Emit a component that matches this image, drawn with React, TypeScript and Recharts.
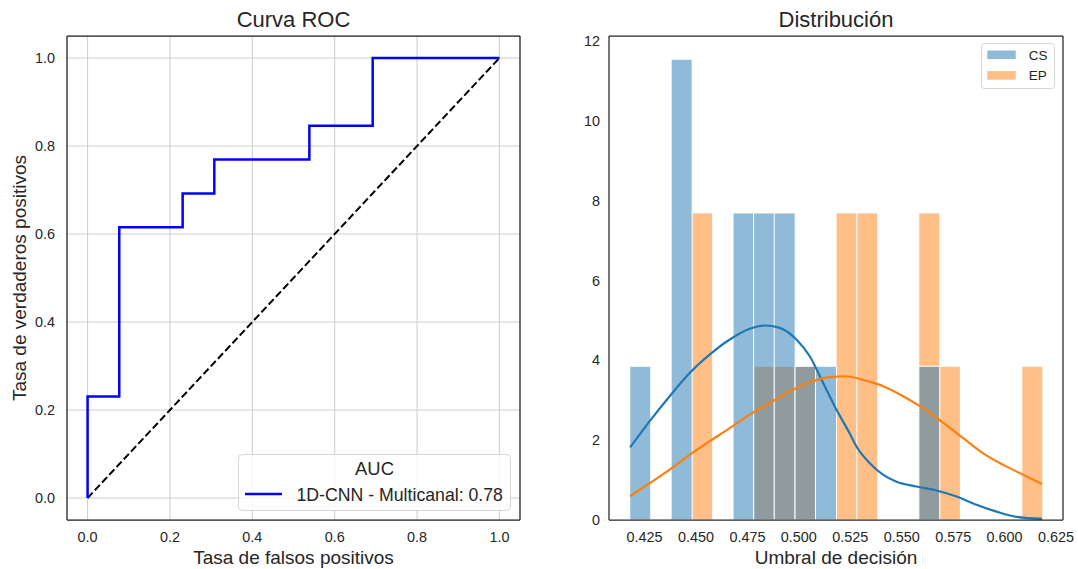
import { ComposedChart, Line, Bar, XAxis, YAxis, CartesianGrid, Legend, Label } from 'recharts'

const FONT = '"Liberation Sans", Arial, Helvetica, sans-serif'
const INK = '#262626'
const GRID = '#cccccc'

// ---- ROC curve (left panel) ----
const FPR = [0, 0, 0.0769, 0.0769, 0.2308, 0.2308, 0.3077, 0.3077, 0.5385, 0.5385, 0.6923, 0.6923, 1]
const TPR = [0, 0.2308, 0.2308, 0.6154, 0.6154, 0.6923, 0.6923, 0.7692, 0.7692, 0.8462, 0.8462, 1, 1]
const CHANCE_FPR = [0, 1]
const CHANCE_TPR = [0, 1]
const ROC_TICKS = [0, 0.2, 0.4, 0.6, 0.8, 1.0]
const ROC_DOMAIN = [-0.05, 1.05]
const ROC_NAME = '1D-CNN - Multicanal'
const ROC_AUC = 0.78

// ---- threshold distribution (right panel) ----
const GROUPS = ['CS', 'EP']
const BIN_CENTERS = [
  0.4228, 0.4328, 0.4429, 0.4529, 0.4629, 0.473, 0.483, 0.493, 0.5031, 0.5131,
  0.5231, 0.5332, 0.5432, 0.5532, 0.5633, 0.5733, 0.5833, 0.5934, 0.6034, 0.6134,
]
const CS_DENSITY = [3.85, 0, 11.54, 0, 0, 7.69, 7.69, 7.69, 3.85, 3.85, 0, 0, 0, 0, 3.85, 0, 0, 0, 0, 0]
const EP_DENSITY = [0, 0, 0, 7.69, 0, 0, 3.85, 3.85, 3.85, 0, 7.69, 7.69, 0, 0, 7.69, 3.85, 0, 0, 0, 3.85]

const KDE_CS_X = [
  0.418, 0.4274, 0.4372, 0.4469, 0.4566, 0.4664, 0.4761, 0.4834, 0.4907, 0.4988, 0.5053,
  0.5118, 0.5183, 0.5248, 0.528, 0.5345, 0.541, 0.5475, 0.5572, 0.5669, 0.5767, 0.5864,
  0.5961, 0.6059, 0.6182,
]
const KDE_CS_Y = [
  1.82, 2.47, 3.1, 3.68, 4.14, 4.52, 4.79, 4.87, 4.81, 4.52, 4.1,
  3.43, 2.76, 2.16, 1.84, 1.42, 1.13, 0.96, 0.84, 0.74, 0.59, 0.38,
  0.21, 0.08, 0.03,
]
const KDE_EP_X = [
  0.418, 0.4274, 0.4372, 0.4469, 0.4566, 0.4664, 0.4761, 0.4858, 0.4956, 0.5053, 0.515,
  0.5231, 0.5312, 0.541, 0.5507, 0.5604, 0.5702, 0.5799, 0.5896, 0.5994, 0.6091, 0.6182,
]
const KDE_EP_Y = [
  0.6, 0.92, 1.26, 1.63, 1.97, 2.3, 2.64, 2.93, 3.22, 3.45, 3.58,
  3.6, 3.51, 3.35, 3.1, 2.8, 2.43, 2.05, 1.67, 1.38, 1.13, 0.9,
]
const THRESHOLD_TICKS = [0.425, 0.45, 0.475, 0.5, 0.525, 0.55, 0.575, 0.6, 0.625]
const THRESHOLD_DOMAIN = [0.4077, 0.6284]
const DENSITY_TICKS = [0, 2, 4, 6, 8, 10, 12]
const DENSITY_DOMAIN = [0, 12.12]

const BLUE = '#1f77b4'
const ORANGE = '#ff7f0e'

const tickStyle = { fill: INK, fontSize: 14.4 }
const spine = { stroke: INK, strokeWidth: 1.25 }

function RocLegend() {
  return (
    <svg width={273} height={57} style={{ display: 'block' }}>
      <rect x={0.5} y={0.5} width={272} height={56} rx={4} fill="#ffffff" fillOpacity={0.8} stroke={GRID} strokeOpacity={0.8} />
      <text x={136.5} y={21} textAnchor="middle" fontSize={18.4} fill={INK}>AUC</text>
      <line x1={7} x2={44} y1={40} y2={40} stroke="#0000ff" strokeWidth={2.5} />
      <text x={58.5} y={46.5} fontSize={17.7} fill={INK}>{`${ROC_NAME}: ${ROC_AUC.toFixed(2)}`}</text>
    </svg>
  )
}

function RocChart() {
  const roc = FPR.map((fpr, i) => ({ fpr, tpr: TPR[i] }))
  const chance = CHANCE_FPR.map((fpr, i) => ({ fpr, tpr: CHANCE_TPR[i] }))

  return (
    <ComposedChart width={540} height={569} margin={{ top: 35, right: 19, bottom: 0, left: 0 }}>
      <CartesianGrid stroke={GRID} strokeWidth={1} />
      {/* the chance diagonal rides on the mirrored (frame) axes, same domain */}
      <Line
        xAxisId="frame"
        yAxisId="frame"
        data={chance}
        dataKey="tpr"
        type="linear"
        stroke="#000000"
        strokeWidth={2}
        strokeDasharray="7.4 3.2"
        dot={false}
        isAnimationActive={false}
      />
      <Line data={roc} dataKey="tpr" type="linear" stroke="#0000ff" strokeWidth={2.5} dot={false} isAnimationActive={false} />
      <XAxis
        dataKey="fpr"
        type="number"
        domain={ROC_DOMAIN}
        ticks={ROC_TICKS}
        allowDataOverflow
        tickFormatter={(v: number) => v.toFixed(1)}
        height={49}
        tickLine={false}
        tickSize={0}
        tickMargin={12}
        axisLine={spine}
        tick={tickStyle}
      >
        <Label value="Tasa de falsos positivos" position="insideBottom" offset={5} fill={INK} fontSize={19} />
      </XAxis>
      <YAxis
        type="number"
        domain={ROC_DOMAIN}
        ticks={ROC_TICKS}
        allowDataOverflow
        tickFormatter={(v: number) => v.toFixed(1)}
        width={67}
        tickLine={false}
        tickSize={0}
        tickMargin={12}
        axisLine={spine}
        tick={tickStyle}
      >
        <Label
          value="Tasa de verdaderos positivos"
          angle={-90}
          position="insideLeft"
          offset={19}
          fill={INK}
          fontSize={19}
          style={{ textAnchor: 'middle' }}
        />
      </YAxis>
      <XAxis
        xAxisId="frame"
        dataKey="fpr"
        orientation="top"
        type="number"
        domain={ROC_DOMAIN}
        allowDataOverflow
        height={1}
        tick={false}
        tickLine={false}
        axisLine={spine}
      >
        <Label value="Curva ROC" position="top" offset={8} fill={INK} fontSize={22} />
      </XAxis>
      <YAxis
        yAxisId="frame"
        orientation="right"
        type="number"
        domain={ROC_DOMAIN}
        allowDataOverflow
        width={1}
        tick={false}
        tickLine={false}
        axisLine={spine}
      />
      <Legend
        layout="vertical"
        align="center"
        verticalAlign="middle"
        wrapperStyle={{ left: 238, top: 454, width: 273, height: 57 }}
        content={() => <RocLegend />}
      />
    </ComposedChart>
  )
}

function DistLegend() {
  const colors = [BLUE, ORANGE]
  return (
    <svg width={74} height={46} style={{ display: 'block' }}>
      <rect x={0.5} y={0.5} width={73} height={45} rx={3} fill="#ffffff" fillOpacity={0.8} stroke={GRID} strokeOpacity={0.8} />
      {GROUPS.map((g, i) => (
        <g key={g}>
          <rect x={6.3} y={7.5 + i * 20.6} width={28.4} height={8.6} fill={colors[i]} fillOpacity={0.5} />
          <text x={47.7} y={16.7 + i * 20.6} fontSize={13.5} fill={INK}>{g}</text>
        </g>
      ))}
    </svg>
  )
}

function DistributionChart() {
  const bins = BIN_CENTERS.map((center, i) => ({ center, cs: CS_DENSITY[i], ep: EP_DENSITY[i] }))
  const kdeCs = KDE_CS_X.map((x, i) => ({ x, density: KDE_CS_Y[i] }))
  const kdeEp = KDE_EP_X.map((x, i) => ({ x, density: KDE_EP_Y[i] }))

  return (
    <ComposedChart
      width={538}
      height={569}
      data={bins}
      margin={{ top: 35, right: 14, bottom: 0, left: 0 }}
      barCategoryGap={0}
      barGap={0}
    >
      {/* EP bars on a hidden x axis and the right frame y axis so they overlap the CS bars */}
      <Bar
        xAxisId="ep"
        yAxisId="frame"
        dataKey="ep"
        name={GROUPS[1]}
        fill={ORANGE}
        fillOpacity={0.5}
        stroke="#ffffff"
        strokeWidth={1}
        isAnimationActive={false}
      />
      <Bar
        xAxisId="bins"
        dataKey="cs"
        name={GROUPS[0]}
        fill={BLUE}
        fillOpacity={0.5}
        stroke="#ffffff"
        strokeWidth={1}
        isAnimationActive={false}
      />
      <Line xAxisId="frame" data={kdeCs} dataKey="density" type="monotone" stroke={BLUE} strokeWidth={2.2} dot={false} isAnimationActive={false} />
      <Line xAxisId="frame" data={kdeEp} dataKey="density" type="monotone" stroke={ORANGE} strokeWidth={2.2} dot={false} isAnimationActive={false} />
      <XAxis xAxisId="ep" dataKey="center" type="number" domain={THRESHOLD_DOMAIN} allowDataOverflow height={0} hide />
      <XAxis
        xAxisId="bins"
        dataKey="center"
        type="number"
        domain={THRESHOLD_DOMAIN}
        ticks={THRESHOLD_TICKS}
        allowDataOverflow
        tickFormatter={(v: number) => v.toFixed(3)}
        height={49}
        tickLine={false}
        tickSize={0}
        tickMargin={12}
        axisLine={spine}
        tick={tickStyle}
      >
        <Label value="Umbral de decisión" position="insideBottom" offset={5} fill={INK} fontSize={19} />
      </XAxis>
      <YAxis
        type="number"
        domain={DENSITY_DOMAIN}
        ticks={DENSITY_TICKS}
        allowDataOverflow
        width={69}
        tickLine={false}
        tickSize={0}
        tickMargin={9}
        axisLine={spine}
        tick={tickStyle}
      />
      <XAxis
        xAxisId="frame"
        dataKey="x"
        orientation="top"
        type="number"
        domain={THRESHOLD_DOMAIN}
        allowDataOverflow
        height={1}
        tick={false}
        tickLine={false}
        axisLine={spine}
      >
        <Label value="Distribución" position="top" offset={8} fill={INK} fontSize={22} />
      </XAxis>
      <YAxis
        yAxisId="frame"
        orientation="right"
        type="number"
        domain={DENSITY_DOMAIN}
        allowDataOverflow
        width={1}
        tick={false}
        tickLine={false}
        axisLine={spine}
      />
      <Legend
        layout="vertical"
        align="center"
        verticalAlign="middle"
        wrapperStyle={{ left: 441, top: 43, width: 74, height: 46 }}
        content={() => <DistLegend />}
      />
    </ComposedChart>
  )
}

export default function App() {
  return (
    <div style={{ position: 'absolute', left: 0, top: 0, width: 1078, height: 569, background: '#ffffff', fontFamily: FONT }}>
      <div style={{ position: 'absolute', left: 0, top: 0 }}>
        <RocChart />
      </div>
      <div style={{ position: 'absolute', left: 540, top: 0 }}>
        <DistributionChart />
      </div>
    </div>
  )
}
